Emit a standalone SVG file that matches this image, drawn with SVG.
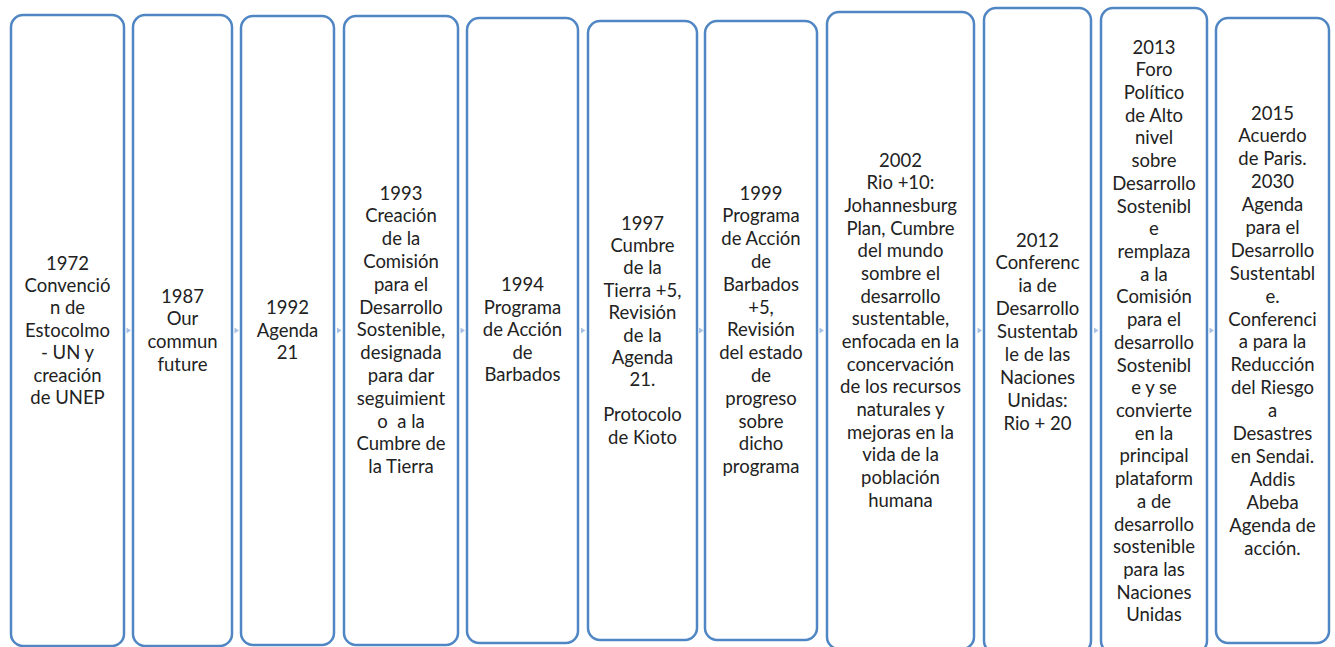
<svg xmlns="http://www.w3.org/2000/svg" width="1335" height="647" viewBox="0 0 1335 647">
<style>
.box{fill:#ffffff;stroke:#4f86c3;stroke-width:2.5}
.t{font-family:Lato,"Open Sans","Liberation Sans",sans-serif;font-size:18.5px;fill:#222222;text-anchor:middle}
.c{fill:#a9c2e4}
</style>
<defs>
<path id="arr" d="M-2,-3 L2.5,0 L-2,3 Z"/>
</defs>
<rect x="0" y="0" width="1335" height="647" fill="#ffffff"/>
<g id="connectors">
<use href="#arr" class="c" x="128.5" y="330.5"/>
<use href="#arr" class="c" x="236.5" y="330.5"/>
<use href="#arr" class="c" x="339" y="330.5"/>
<use href="#arr" class="c" x="462.5" y="330.5"/>
<use href="#arr" class="c" x="583" y="330.5"/>
<use href="#arr" class="c" x="701" y="330.5"/>
<use href="#arr" class="c" x="821.5" y="330.5"/>
<use href="#arr" class="c" x="979.5" y="330.5"/>
<use href="#arr" class="c" x="1096" y="330.5"/>
<use href="#arr" class="c" x="1211.5" y="330.5"/>
</g>
<g id="n1">
<rect class="box" x="11" y="15" width="113" height="631" rx="12"/>
<text class="t" x="67.5" y="269.5"><tspan x="67.5">1972</tspan><tspan x="67.5" dy="22.4">Convenció</tspan><tspan x="67.5" dy="22.4">n de</tspan><tspan x="67.5" dy="22.4">Estocolmo</tspan><tspan x="67.5" dy="22.4">- UN y</tspan><tspan x="67.5" dy="22.4">creación</tspan><tspan x="67.5" dy="22.4">de UNEP</tspan></text>
</g>
<g id="n2">
<rect class="box" x="133" y="15" width="99" height="631" rx="12"/>
<text class="t" x="182.5" y="302.8"><tspan x="182.5">1987</tspan><tspan x="182.5" dy="22.6">Our</tspan><tspan x="182.5" dy="22.6">commun</tspan><tspan x="182.5" dy="22.6">future</tspan></text>
</g>
<g id="n3">
<rect class="box" x="241" y="16" width="93" height="629" rx="12"/>
<text class="t" x="287.5" y="314.2"><tspan x="287.5">1992</tspan><tspan x="287.5" dy="22.6">Agenda</tspan><tspan x="287.5" dy="22.6">21</tspan></text>
</g>
<g id="n4">
<rect class="box" x="344" y="16" width="114" height="629" rx="12"/>
<text class="t" x="401" y="199.5"><tspan x="401">1993</tspan><tspan x="401" dy="22.8">Creación</tspan><tspan x="401" dy="22.8">de la</tspan><tspan x="401" dy="22.8">Comisión</tspan><tspan x="401" dy="22.8">para el</tspan><tspan x="401" dy="22.8">Desarrollo</tspan><tspan x="401" dy="22.8">Sostenible,</tspan><tspan x="401" dy="22.8">designada</tspan><tspan x="401" dy="22.8">para dar</tspan><tspan x="401" dy="22.8">seguimient</tspan><tspan x="401" dy="22.8" style="white-space:pre">o  a la</tspan><tspan x="401" dy="22.8">Cumbre de</tspan><tspan x="401" dy="22.8">la Tierra</tspan></text>
</g>
<g id="n5">
<rect class="box" x="467" y="18" width="111" height="625" rx="12"/>
<text class="t" x="522.5" y="291"><tspan x="522.5">1994</tspan><tspan x="522.5" dy="22.6">Programa</tspan><tspan x="522.5" dy="22.6">de Acción</tspan><tspan x="522.5" dy="22.6">de</tspan><tspan x="522.5" dy="22.6">Barbados</tspan></text>
</g>
<g id="n6">
<rect class="box" x="588" y="21" width="109" height="619" rx="12"/>
<text class="t" x="642.5" y="229.5"><tspan x="642.5">1997</tspan><tspan x="642.5" dy="22.4">Cumbre</tspan><tspan x="642.5" dy="22.4">de la</tspan><tspan x="642.5" dy="22.4">Tierra +5,</tspan><tspan x="642.5" dy="22.4">Revisión</tspan><tspan x="642.5" dy="22.4">de la</tspan><tspan x="642.5" dy="22.4">Agenda</tspan><tspan x="642.5" dy="22.4">21.</tspan><tspan x="642.5" dy="35">Protocolo</tspan><tspan x="642.5" dy="22.4">de Kioto</tspan></text>
</g>
<g id="n7">
<rect class="box" x="705" y="21" width="112" height="619" rx="12"/>
<text class="t" x="761" y="199.5"><tspan x="761">1999</tspan><tspan x="761" dy="22.8">Programa</tspan><tspan x="761" dy="22.8">de Acción</tspan><tspan x="761" dy="22.8">de</tspan><tspan x="761" dy="22.8">Barbados</tspan><tspan x="761" dy="22.8">+5,</tspan><tspan x="761" dy="22.8">Revisión</tspan><tspan x="761" dy="22.8">del estado</tspan><tspan x="761" dy="22.8">de</tspan><tspan x="761" dy="22.8">progreso</tspan><tspan x="761" dy="22.8">sobre</tspan><tspan x="761" dy="22.8">dicho</tspan><tspan x="761" dy="22.8">programa</tspan></text>
</g>
<g id="n8">
<rect class="box" x="827" y="12" width="147" height="637" rx="12"/>
<text class="t" x="900.5" y="166.5"><tspan x="900.5">2002</tspan><tspan x="900.5" dy="22.67">Rio +10:</tspan><tspan x="900.5" dy="22.67">Johannesburg</tspan><tspan x="900.5" dy="22.67">Plan, Cumbre</tspan><tspan x="900.5" dy="22.67">del mundo</tspan><tspan x="900.5" dy="22.67">sombre el</tspan><tspan x="900.5" dy="22.67">desarrollo</tspan><tspan x="900.5" dy="22.67">sustentable,</tspan><tspan x="900.5" dy="22.67">enfocada en la</tspan><tspan x="900.5" dy="22.67">concervación</tspan><tspan x="900.5" dy="22.67">de los recursos</tspan><tspan x="900.5" dy="22.67">naturales y</tspan><tspan x="900.5" dy="22.67">mejoras en la</tspan><tspan x="900.5" dy="22.67">vida de la</tspan><tspan x="900.5" dy="22.67">población</tspan><tspan x="900.5" dy="22.67">humana</tspan></text>
</g>
<g id="n9">
<rect class="box" x="984" y="8" width="107" height="645" rx="12"/>
<text class="t" x="1037.5" y="246.5"><tspan x="1037.5">2012</tspan><tspan x="1037.5" dy="22.9">Conferenc</tspan><tspan x="1037.5" dy="22.9">ia de</tspan><tspan x="1037.5" dy="22.9">Desarrollo</tspan><tspan x="1037.5" dy="22.9">Sustentab</tspan><tspan x="1037.5" dy="22.9">le de las</tspan><tspan x="1037.5" dy="22.9">Naciones</tspan><tspan x="1037.5" dy="22.9">Unidas:</tspan><tspan x="1037.5" dy="22.9">Rio + 20</tspan></text>
</g>
<g id="n10">
<rect class="box" x="1101" y="8" width="106" height="645" rx="12"/>
<text class="t" x="1154" y="53.5"><tspan x="1154">2013</tspan><tspan x="1154" dy="22.72">Foro</tspan><tspan x="1154" dy="22.72">Político</tspan><tspan x="1154" dy="22.72">de Alto</tspan><tspan x="1154" dy="22.72">nivel</tspan><tspan x="1154" dy="22.72">sobre</tspan><tspan x="1154" dy="22.72">Desarrollo</tspan><tspan x="1154" dy="22.72">Sostenibl</tspan><tspan x="1154" dy="22.72">e</tspan><tspan x="1154" dy="22.72">remplaza</tspan><tspan x="1154" dy="22.72">a la</tspan><tspan x="1154" dy="22.72">Comisión</tspan><tspan x="1154" dy="22.72">para el</tspan><tspan x="1154" dy="22.72">desarrollo</tspan><tspan x="1154" dy="22.72">Sostenibl</tspan><tspan x="1154" dy="22.72">e y se</tspan><tspan x="1154" dy="22.72">convierte</tspan><tspan x="1154" dy="22.72">en la</tspan><tspan x="1154" dy="22.72">principal</tspan><tspan x="1154" dy="22.72">plataform</tspan><tspan x="1154" dy="22.72">a de</tspan><tspan x="1154" dy="22.72">desarrollo</tspan><tspan x="1154" dy="22.72">sostenible</tspan><tspan x="1154" dy="22.72">para las</tspan><tspan x="1154" dy="22.72">Naciones</tspan><tspan x="1154" dy="22.72">Unidas</tspan></text>
</g>
<g id="n11">
<rect class="box" x="1216" y="18" width="113" height="625" rx="12"/>
<text class="t" x="1272.5" y="119.5"><tspan x="1272.5">2015</tspan><tspan x="1272.5" dy="22.9">Acuerdo</tspan><tspan x="1272.5" dy="22.9">de Paris.</tspan><tspan x="1272.5" dy="22.9">2030</tspan><tspan x="1272.5" dy="22.9">Agenda</tspan><tspan x="1272.5" dy="22.9">para el</tspan><tspan x="1272.5" dy="22.9">Desarrollo</tspan><tspan x="1272.5" dy="22.9">Sustentabl</tspan><tspan x="1272.5" dy="22.9">e.</tspan><tspan x="1272.5" dy="22.9">Conferenci</tspan><tspan x="1272.5" dy="22.9">a para la</tspan><tspan x="1272.5" dy="22.9">Reducción</tspan><tspan x="1272.5" dy="22.9">del Riesgo</tspan><tspan x="1272.5" dy="22.9">a</tspan><tspan x="1272.5" dy="22.9">Desastres</tspan><tspan x="1272.5" dy="22.9">en Sendai.</tspan><tspan x="1272.5" dy="22.9">Addis</tspan><tspan x="1272.5" dy="22.9">Abeba</tspan><tspan x="1272.5" dy="22.9">Agenda de</tspan><tspan x="1272.5" dy="22.9">acción.</tspan></text>
</g>
</svg>
